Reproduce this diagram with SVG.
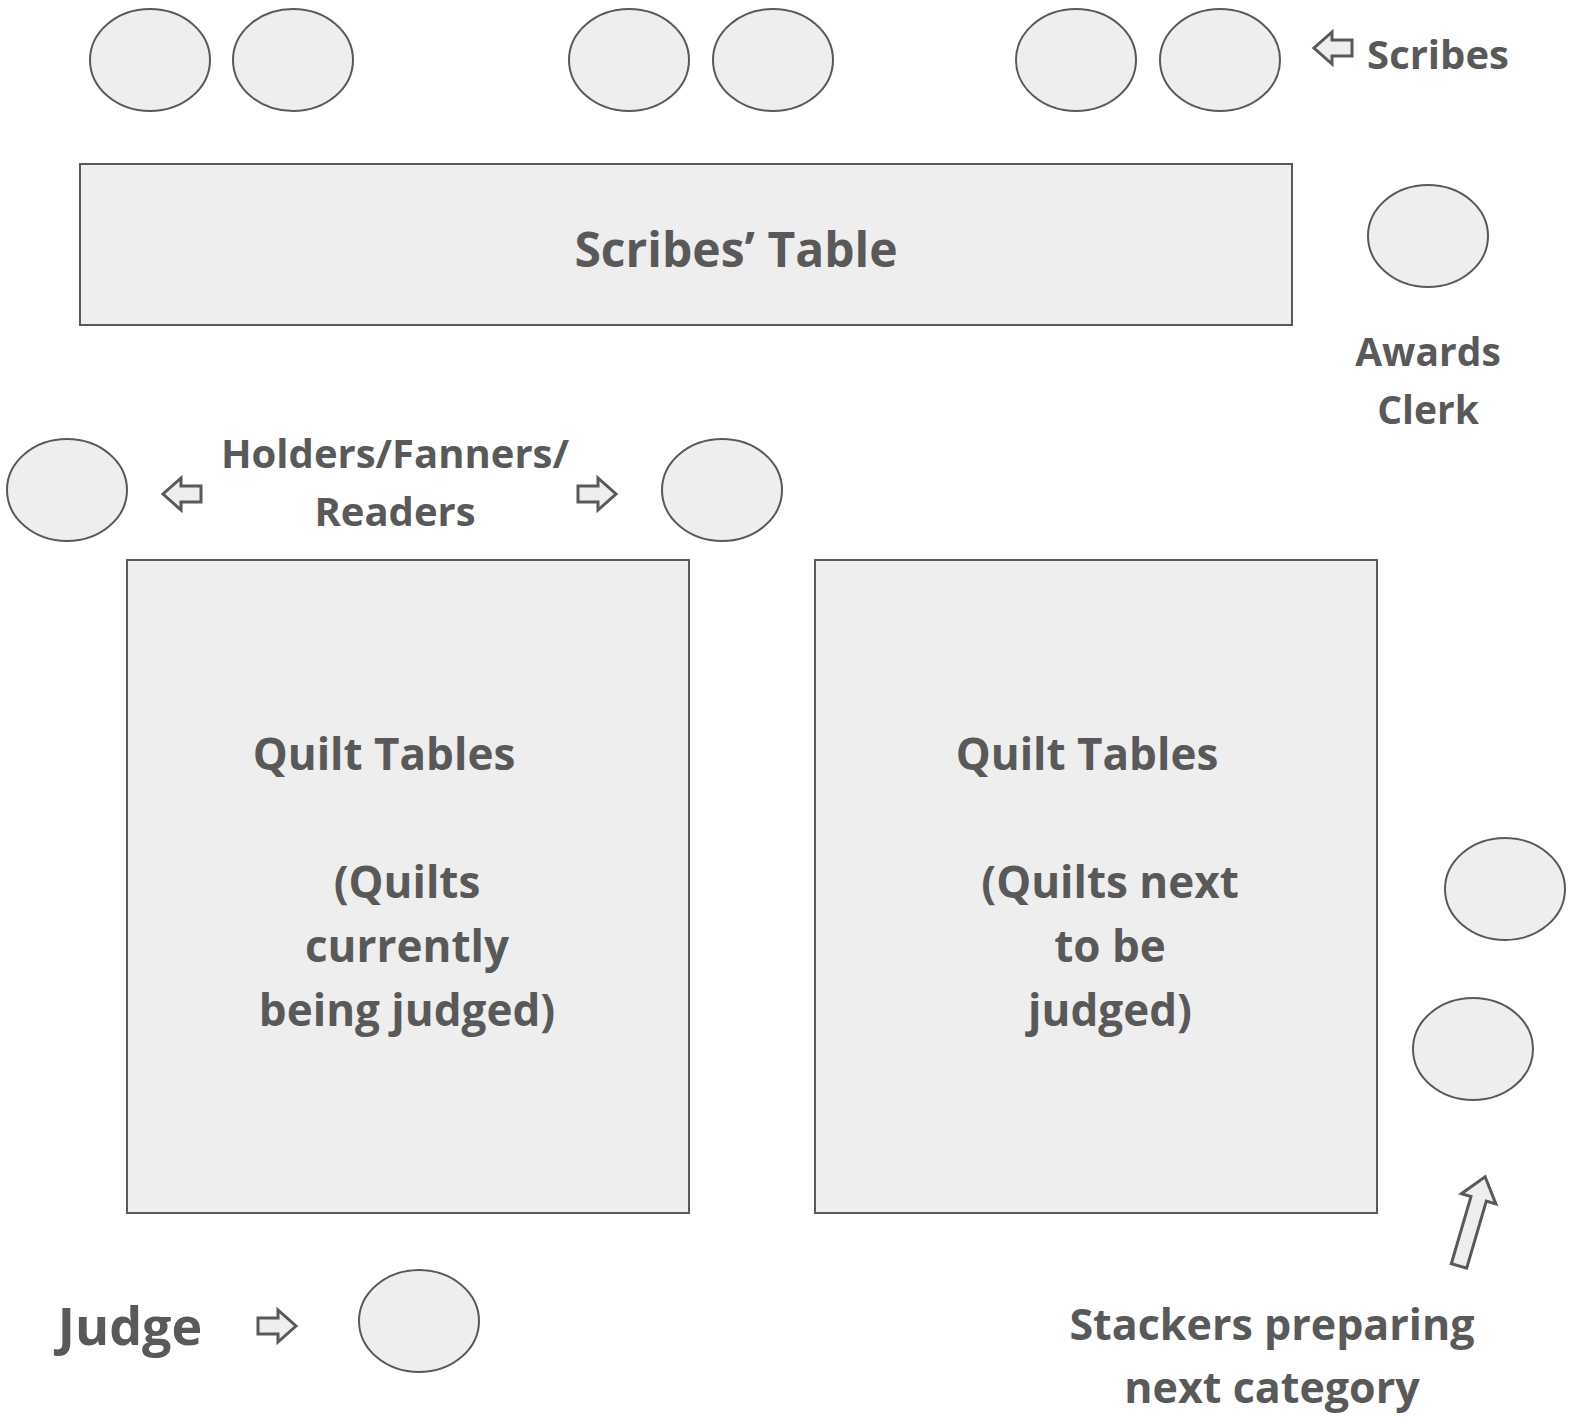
<svg xmlns="http://www.w3.org/2000/svg" width="1570" height="1418" viewBox="0 0 1570 1418">
<style>
.sh{fill:#eeeeee;stroke:#595959;stroke-width:2}
.ar{fill:#eeeeee;stroke:#595959;stroke-width:3;stroke-linejoin:miter}
text{font-family:"Open Sans","Noto Sans","DejaVu Sans",sans-serif;font-weight:bold;fill:#595959;text-anchor:middle}
</style>
<defs>
<path id="rarrow" d="M0,-8 H20 V-16 L38,0 L20,16 V8 H0 Z"/>
</defs>
<rect width="1570" height="1418" fill="#ffffff"/>
<g id="scribe1"><ellipse class="sh" cx="150" cy="60" rx="60" ry="51"/></g>
<g id="scribe2"><ellipse class="sh" cx="293" cy="60" rx="60" ry="51"/></g>
<g id="scribe3"><ellipse class="sh" cx="629" cy="60" rx="60" ry="51"/></g>
<g id="scribe4"><ellipse class="sh" cx="773" cy="60" rx="60" ry="51"/></g>
<g id="scribe5"><ellipse class="sh" cx="1076" cy="60" rx="60" ry="51"/></g>
<g id="scribe6"><ellipse class="sh" cx="1220" cy="60" rx="60" ry="51"/></g>
<g id="scribes-label"><text x="1438" y="69" font-size="40">Scribes</text></g>
<g id="scribes-table"><rect class="sh" x="80" y="164" width="1212" height="161"/><text x="736" y="267" font-size="48">Scribes’ Table</text></g>
<g id="awards-clerk"><ellipse class="sh" cx="1428" cy="236" rx="60" ry="51"/><text x="1428" y="366" font-size="39">Awards</text><text x="1428" y="424" font-size="39">Clerk</text></g>
<g id="holder-left"><ellipse class="sh" cx="67" cy="490" rx="60" ry="51"/></g>
<g id="holder-right"><ellipse class="sh" cx="722" cy="490" rx="60" ry="51"/></g>
<g id="holders-label"><text x="395" y="468" font-size="40">Holders/Fanners/</text><text x="395" y="526" font-size="40">Readers</text></g>
<g id="quilt-tables-1"><rect class="sh" x="127" y="560" width="562" height="653"/>
<text x="384" y="770" font-size="44">Quilt Tables</text>
<text x="407" y="898" font-size="44">(Quilts</text>
<text x="407" y="962" font-size="44">currently</text>
<text x="407" y="1026" font-size="44">being judged)</text></g>
<g id="quilt-tables-2"><rect class="sh" x="815" y="560" width="562" height="653"/>
<text x="1087" y="770" font-size="44">Quilt Tables</text>
<text x="1110" y="898" font-size="44">(Quilts next</text>
<text x="1110" y="962" font-size="44">to be</text>
<text x="1110" y="1026" font-size="44">judged)</text></g>
<g id="stacker1"><ellipse class="sh" cx="1505" cy="889" rx="60" ry="51"/></g>
<g id="stacker2"><ellipse class="sh" cx="1473" cy="1049" rx="60" ry="51"/></g>
<g id="judge"><ellipse class="sh" cx="419" cy="1321" rx="60" ry="51"/></g>
<g id="judge-label"><text x="130" y="1345" font-size="52">Judge</text></g>
<g id="stackers-label"><text x="1272" y="1340" font-size="43">Stackers preparing</text><text x="1272" y="1403" font-size="43">next category</text></g>
<g id="connectors">
<use href="#rarrow" class="ar" transform="translate(1352,48) rotate(180)"/>
<use href="#rarrow" class="ar" transform="translate(201,494) rotate(180)"/>
<use href="#rarrow" class="ar" transform="translate(578,494)"/>
<use href="#rarrow" class="ar" transform="translate(258,1326)"/>
<path class="ar" d="M0,-8 H70 V-18 L93,0 L70,18 V8 H0 Z" transform="translate(1459,1266) rotate(-73.7)"/>
</g>
</svg>
